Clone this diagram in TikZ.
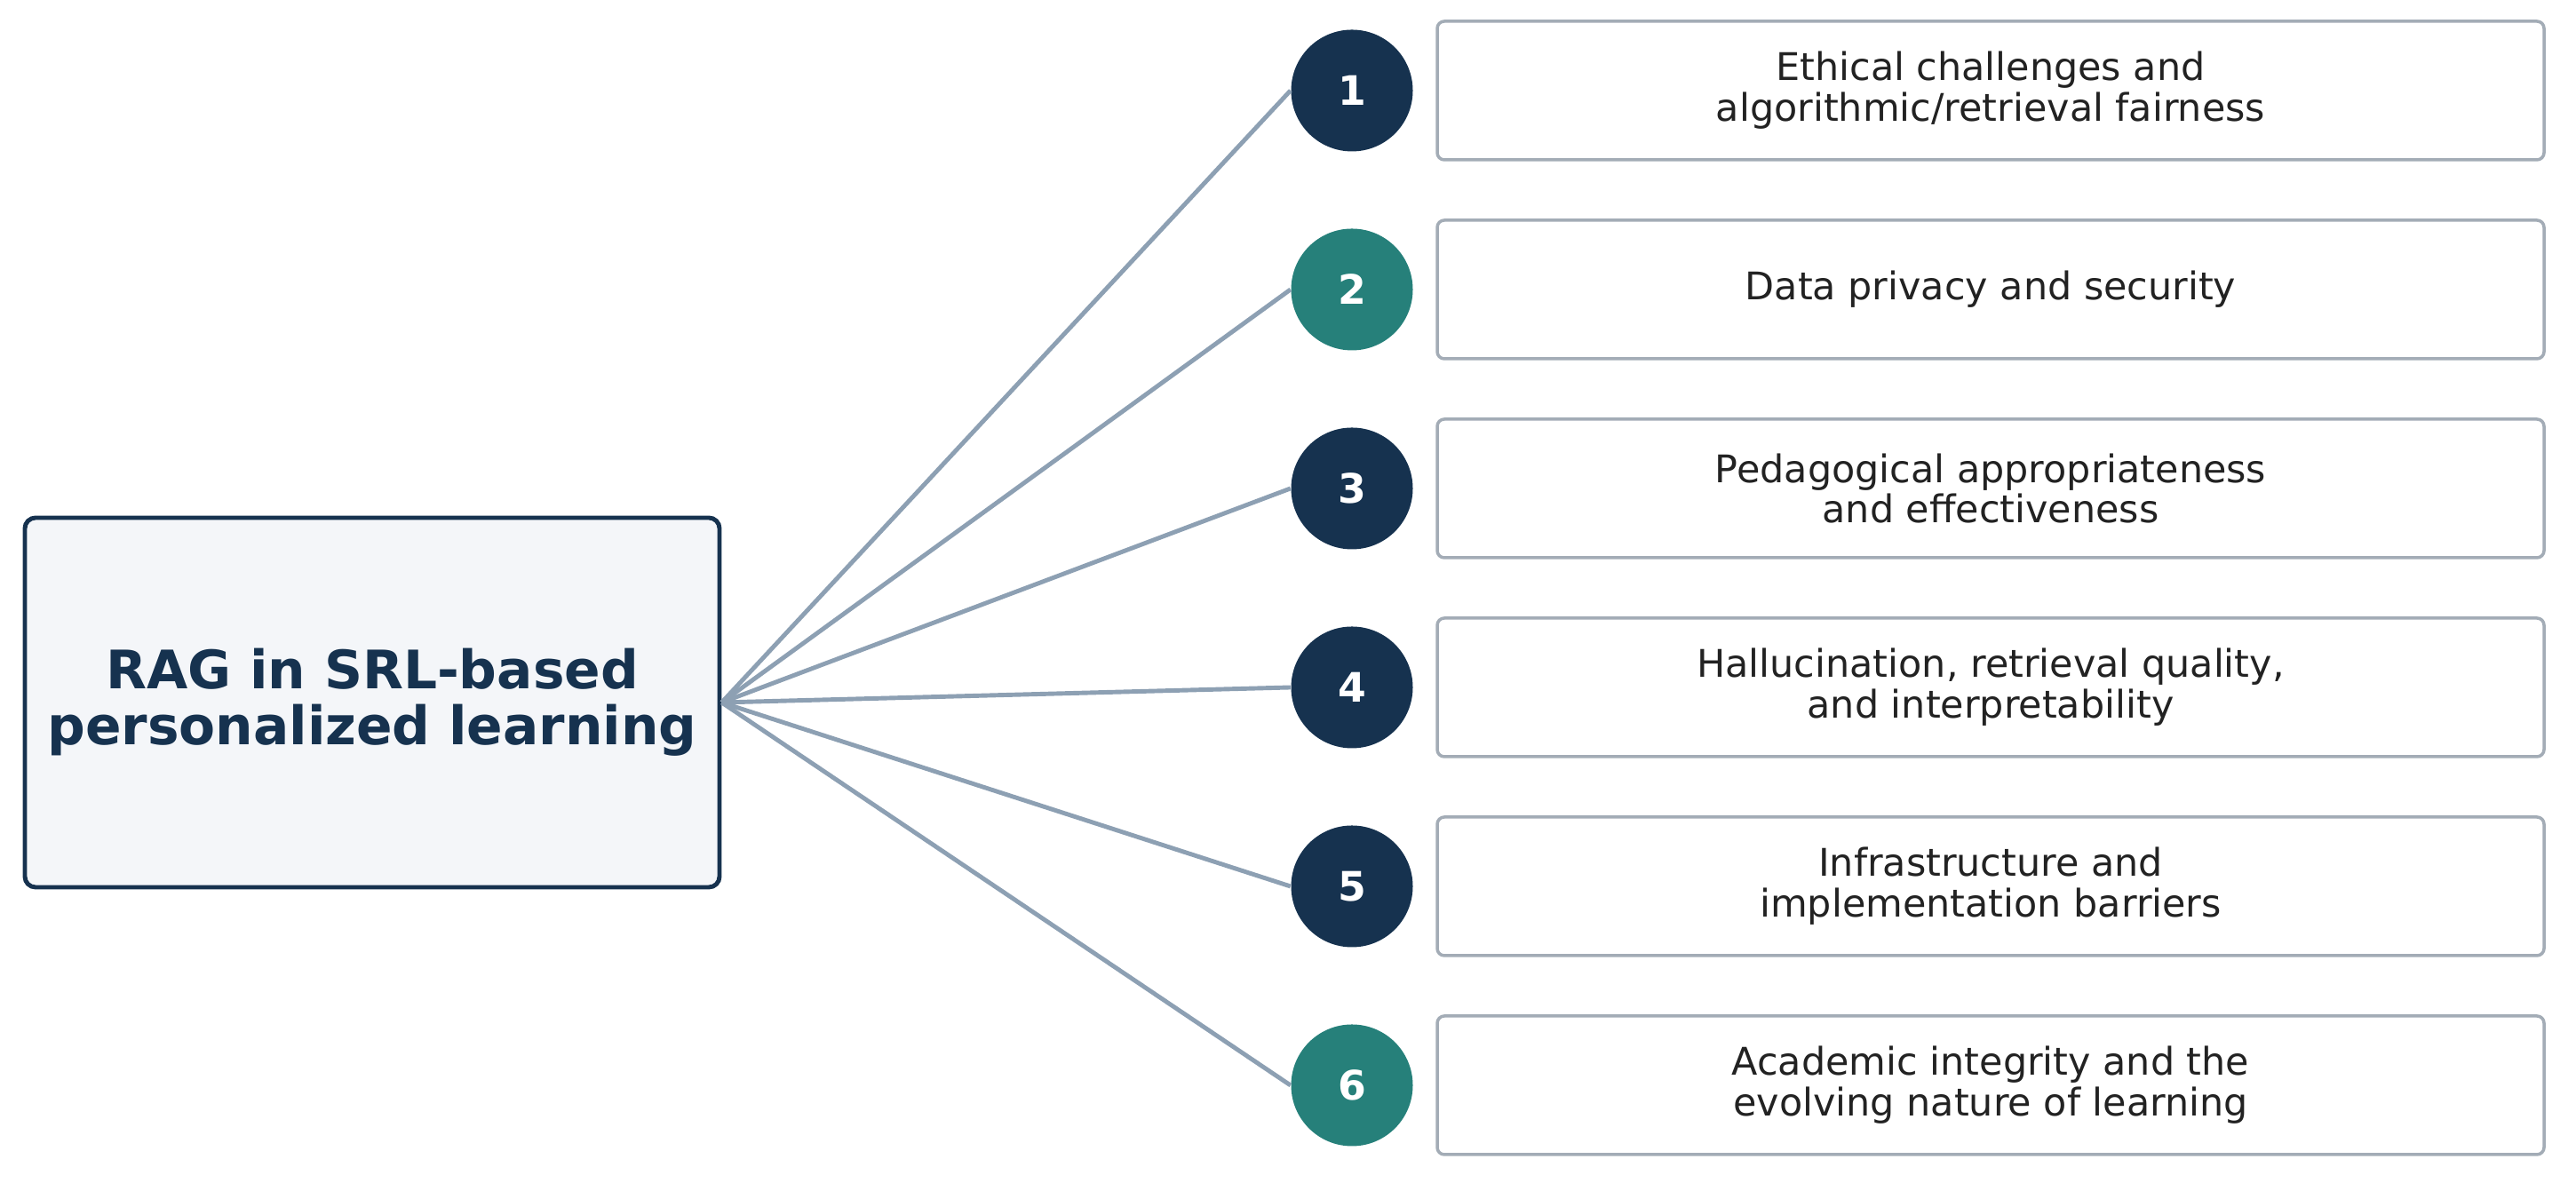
\documentclass[tikz,border=0pt]{standalone}
\usepackage{fontspec}
\setmainfont{DejaVu Sans}
\definecolor{azul}{HTML}{16324F}
\definecolor{verde}{HTML}{26807A}
\definecolor{linea}{HTML}{8DA0B3}
\definecolor{borde}{HTML}{A3ACB6}
\definecolor{fondo}{HTML}{F4F6F9}
\definecolor{texto}{HTML}{222222}
\tikzset{
  centro/.style={draw=azul, line width=1.4pt, fill=fondo, rounded corners=0.12cm,
    minimum width=7.82cm, minimum height=4.16cm, align=center, text=azul,
    font=\bfseries\fontsize{17}{18}\selectfont},
  numero/.style={circle, minimum size=1.37cm, inner sep=0pt, text=white,
    font=\bfseries\fontsize{13}{13}\selectfont},
  reto/.style={draw=borde, line width=1pt, fill=white, rounded corners=0.08cm,
    minimum width=12.46cm, minimum height=1.56cm, align=center, text=texto,
    font=\fontsize{12.2}{13}\selectfont},
  rama/.style={draw=linea, line width=1.4pt}
}
\begin{document}
\begin{tikzpicture}
    \useasboundingbox (0,0) rectangle (29,13.32);

    % Nodo central
    \node[centro] (rag) at (4.19,5.41) {RAG in SRL-based\\personalized learning};

    % Retos numerados con sus ramas
    \foreach \n/\col/\txt in {
        1/azul/{Ethical challenges and\\algorithmic/retrieval fairness},
        2/verde/{Data privacy and security},
        3/azul/{Pedagogical appropriateness\\and effectiveness},
        4/azul/{Hallucination, retrieval quality,\\and interpretability},
        5/azul/{Infrastructure and\\implementation barriers},
        6/verde/{Academic integrity and the\\evolving nature of learning}}{
        \node[numero, fill=\col] (c\n) at (15.22,{12.30-2.24*(\n-1)}) {\n};
        \node[reto] (b\n) at (22.41,{12.30-2.24*(\n-1)}) {\txt};
        \draw[rama] (rag.east) -- (c\n.west);
    }
\end{tikzpicture}
\end{document}
